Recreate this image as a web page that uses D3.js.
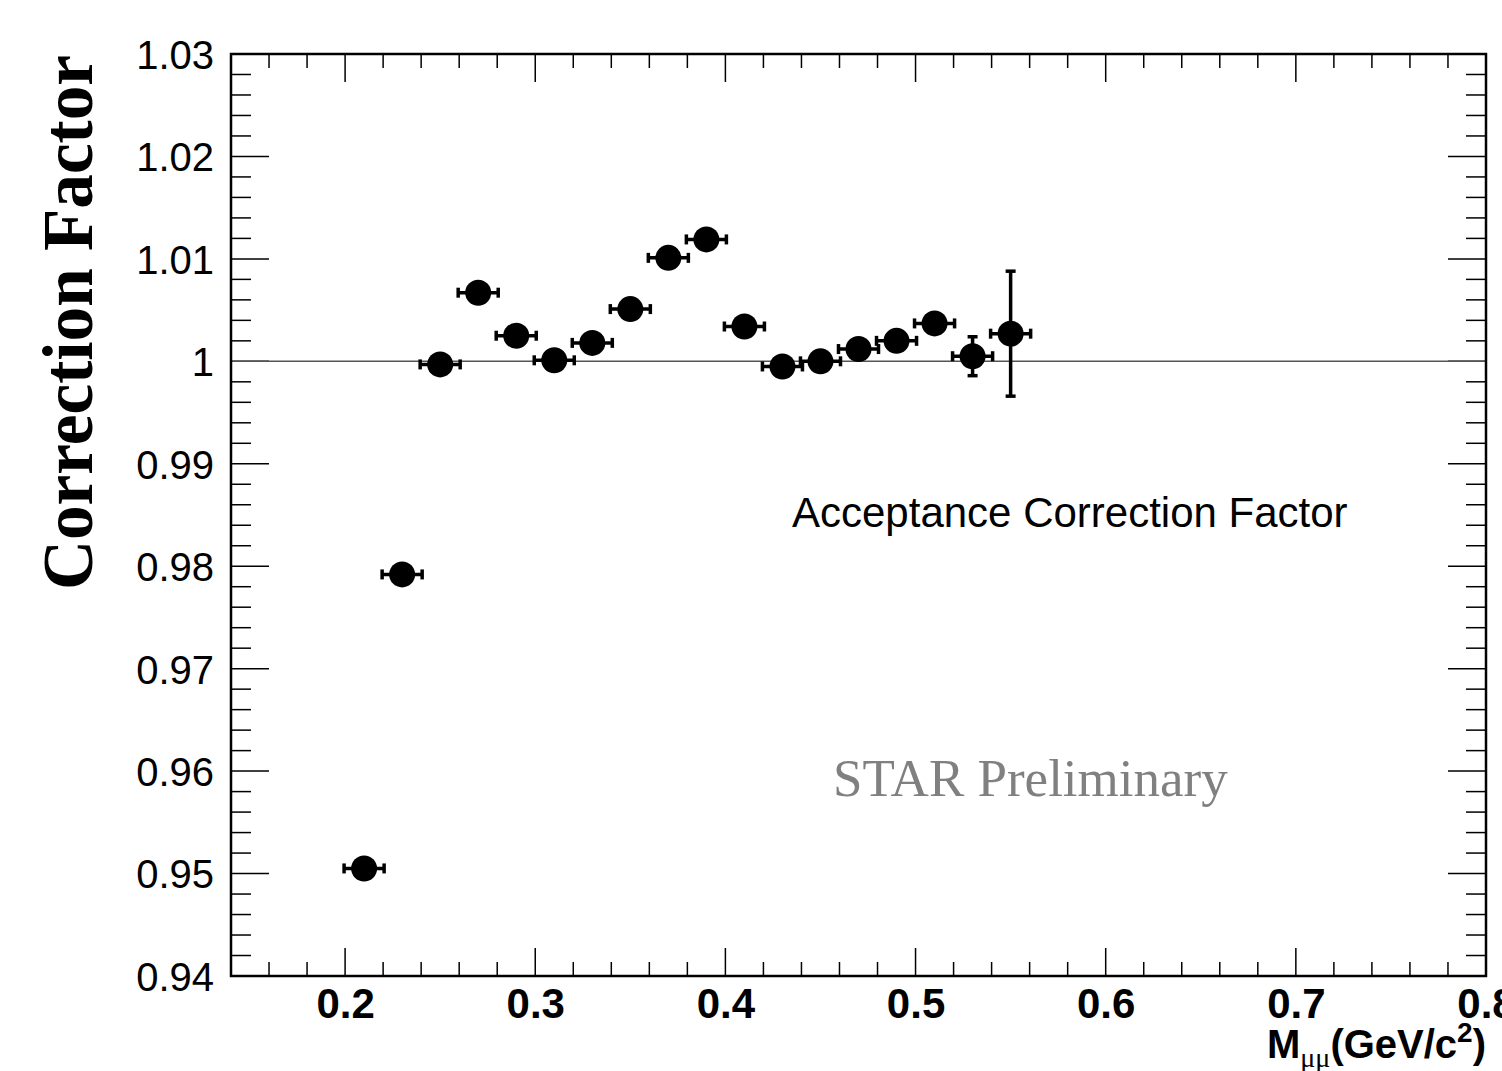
<!DOCTYPE html>
<html>
<head>
<meta charset="utf-8">
<script src="https://cdn.jsdelivr.net/npm/d3@7"></script>
<style>
  body { margin: 0; background: #fff; }
  svg { display: block; }
</style>
</head>
<body>
<svg id="chart" width="1502" height="1071"></svg>
<script>
// bin centres (GeV/c^2), values and errors
const massBins = [0.21, 0.23, 0.25, 0.27, 0.29, 0.31, 0.33, 0.35, 0.37, 0.39,
                  0.41, 0.43, 0.45, 0.47, 0.49, 0.51, 0.53, 0.55]
const corrFactor = [0.9505, 0.9792, 0.9997, 1.0067, 1.0025, 1.0001, 1.0018, 1.0051, 1.0101, 1.0119,
                    1.0034, 0.9995, 1.0000, 1.0012, 1.0020, 1.0037, 1.0005, 1.0027]
const corrErr = [0.0004, 0.0004, 0.0004, 0.0004, 0.0004, 0.0004, 0.0004, 0.0004, 0.0004, 0.0004,
                 0.0004, 0.0004, 0.0004, 0.0004, 0.0004, 0.0004, 0.0019, 0.0061]
const binHalfWidth = 0.01
const xTicks = [0.2, 0.3, 0.4, 0.5, 0.6, 0.7, 0.8]
const yTicks = [0.94, 0.95, 0.96, 0.97, 0.98, 0.99, 1, 1.01, 1.02, 1.03]

const data = massBins.map((m, i) => ({x: m, y: corrFactor[i], e: corrErr[i]}))

const margin = {top: 54, right: 16, bottom: 95, left: 231}
const width = 1502 - margin.left - margin.right
const height = 1071 - margin.top - margin.bottom

const svg = d3.select('#chart')
const chart = svg.append('g')
    .attr('transform', `translate(${margin.left},${margin.top})`)

const xScale = d3.scaleLinear().domain([0.14, 0.8]).range([0, width])
const yScale = d3.scaleLinear().domain([0.94, 1.03]).range([height, 0])

// minor tick positions (ROOT style: 5 per major on x, 5 per major on y)
const xMinor = d3.range(0, 34).map(i => +(0.14 + i * 0.02).toFixed(3)).filter(v => v <= 0.8 && !xTicks.some(t => Math.abs(t - v) < 1e-6))
const yMinor = d3.range(0, 46).map(i => +(0.94 + i * 0.002).toFixed(4)).filter(v => v <= 1.03 && !yTicks.some(t => Math.abs(t - v) < 1e-6))

// axes - bottom / left with labels, top / right ticks only
const fmtY = d => d === 1 ? '1' : d3.format('.2f')(d)
const xAxisB = d3.axisBottom(xScale).tickValues(xTicks).tickSize(0).tickFormat(d3.format('.1f'))
const yAxisL = d3.axisLeft(yScale).tickValues(yTicks).tickSize(0).tickFormat(fmtY)

const gx = chart.append('g').attr('transform', `translate(0,${height})`).call(xAxisB)
gx.select('.domain').remove()
gx.selectAll('text')
    .attr('y', 42)
    .attr('dy', 0)
    .style('font-family', 'Liberation Sans, Arial, sans-serif')
    .style('font-size', '42px')
    .style('font-weight', 'bold')
    .attr('fill', '#000')

const gy = chart.append('g').call(yAxisL)
gy.select('.domain').remove()
gy.selectAll('text')
    .attr('x', -17)
    .attr('dy', '0.36em')
    .style('font-family', 'Liberation Sans, Arial, sans-serif')
    .style('font-size', '40px')
    .attr('fill', '#000')

// tick marks on all four sides
const ticks = chart.append('g').attr('stroke', '#000').attr('stroke-width', 1.5)
xTicks.concat(xMinor).forEach(v => {
    const len = xTicks.includes(v) ? 28 : 14
    const px = xScale(v)
    ticks.append('line').attr('x1', px).attr('x2', px).attr('y1', height).attr('y2', height - len)
    ticks.append('line').attr('x1', px).attr('x2', px).attr('y1', 0).attr('y2', len)
})
yTicks.concat(yMinor).forEach(v => {
    const len = yTicks.includes(v) ? 38 : 20
    const py = yScale(v)
    ticks.append('line').attr('y1', py).attr('y2', py).attr('x1', 0).attr('x2', len)
    ticks.append('line').attr('y1', py).attr('y2', py).attr('x1', width).attr('x2', width - len)
})

// reference line at 1
chart.append('line')
    .attr('x1', 0).attr('x2', width)
    .attr('y1', yScale(1)).attr('y2', yScale(1))
    .attr('stroke', '#555').attr('stroke-width', 1.5)

// frame
chart.append('rect')
    .attr('width', width).attr('height', height)
    .attr('fill', 'none').attr('stroke', '#000').attr('stroke-width', 2.5)

// error bars
const cap = 5
const pts = chart.append('g').attr('stroke', '#000').attr('stroke-width', 3.5)
data.forEach(d => {
    const cx = xScale(d.x), cy = yScale(d.y)
    const x0 = xScale(d.x - binHalfWidth) - 1, x1 = xScale(d.x + binHalfWidth) + 1
    pts.append('line').attr('x1', x0).attr('x2', x1).attr('y1', cy).attr('y2', cy)
    pts.append('line').attr('x1', x0).attr('x2', x0).attr('y1', cy - cap).attr('y2', cy + cap)
    pts.append('line').attr('x1', x1).attr('x2', x1).attr('y1', cy - cap).attr('y2', cy + cap)
    const y0 = yScale(d.y - d.e), y1 = yScale(d.y + d.e)
    if (Math.abs(y0 - y1) > 26) {
        pts.append('line').attr('x1', cx).attr('x2', cx).attr('y1', y0).attr('y2', y1)
        pts.append('line').attr('x1', cx - cap).attr('x2', cx + cap).attr('y1', y0).attr('y2', y0)
        pts.append('line').attr('x1', cx - cap).attr('x2', cx + cap).attr('y1', y1).attr('y2', y1)
    }
})

// markers
chart.append('g').selectAll('circle')
    .data(data)
    .join('circle')
    .attr('cx', d => xScale(d.x))
    .attr('cy', d => yScale(d.y))
    .attr('r', 13)
    .attr('fill', '#000')

// labels inside the frame
svg.append('text')
    .attr('x', 792).attr('y', 527)
    .style('font-family', 'Liberation Sans, Arial, sans-serif')
    .style('font-size', '42px')
    .text('Acceptance Correction Factor')

svg.append('text')
    .attr('x', 833).attr('y', 796)
    .attr('fill', '#808080')
    .style('font-family', 'Liberation Serif, Times New Roman, serif')
    .style('font-size', '53px')
    .text('STAR Preliminary')

// y title
svg.append('text')
    .attr('transform', 'translate(92,590) rotate(-90)')
    .attr('textLength', 535)
    .attr('lengthAdjust', 'spacingAndGlyphs')
    .style('font-family', 'Liberation Serif, Times New Roman, serif')
    .style('font-size', '72px')
    .style('font-weight', 'bold')
    .text('Correction Factor')

// x title
const xt = svg.append('text')
    .attr('x', 1486).attr('y', 1058)
    .attr('text-anchor', 'end')
    .style('font-family', 'Liberation Sans, Arial, sans-serif')
    .style('font-size', '40px')
    .style('font-weight', 'bold')
xt.append('tspan').text('M')
xt.append('tspan').attr('dy', 9).style('font-size', '28px').style('font-weight', 'normal')
    .style('font-family', 'Liberation Serif, Times New Roman, serif').text('μμ')
xt.append('tspan').attr('dy', -9).text('(GeV/c')
xt.append('tspan').attr('dy', -16).style('font-size', '28px').text('2')
xt.append('tspan').attr('dy', 16).text(')')
</script>
</body>
</html>
